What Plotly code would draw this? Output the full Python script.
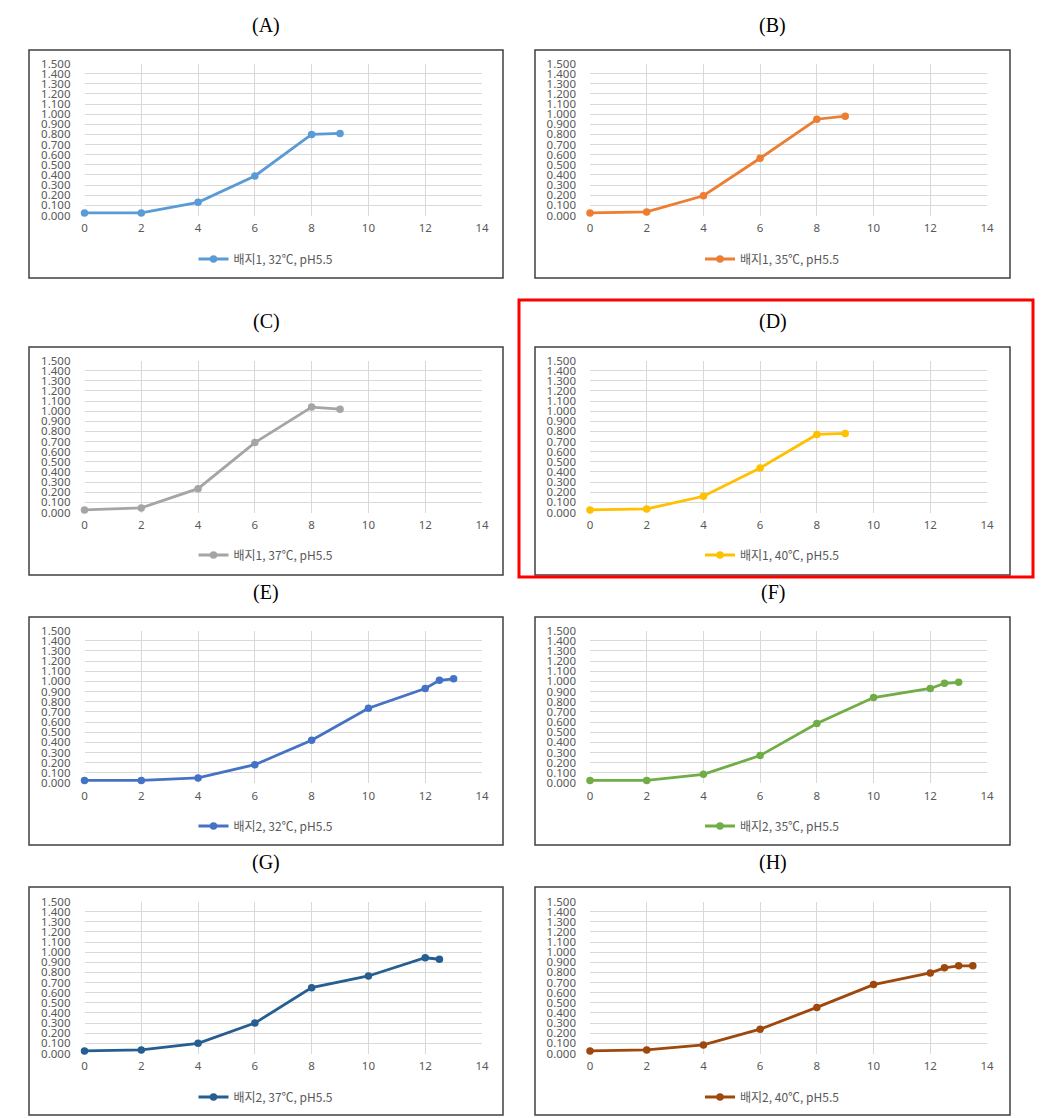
import plotly.graph_objects as go

# ---------------- data ----------------
panel_titles = ["(A)", "(B)", "(C)", "(D)", "(E)", "(F)", "(G)", "(H)"]
series_names = [
    "배지1, 32℃, pH5.5", "배지1, 35℃, pH5.5",
    "배지1, 37℃, pH5.5", "배지1, 40℃, pH5.5",
    "배지2, 32℃, pH5.5", "배지2, 35℃, pH5.5",
    "배지2, 37℃, pH5.5", "배지2, 40℃, pH5.5",
]
x_m1 = [0, 2, 4, 6, 8, 9]
x_e = [0, 2, 4, 6, 8, 10, 12, 12.5, 13]
x_f = [0, 2, 4, 6, 8, 10, 12, 12.5, 13]
x_g = [0, 2, 4, 6, 8, 10, 12, 12.5]
x_h = [0, 2, 4, 6, 8, 10, 12, 12.5, 13, 13.5]

y_a = [0.025, 0.025, 0.13, 0.39, 0.80, 0.81]
y_b = [0.025, 0.035, 0.195, 0.565, 0.950, 0.980]
y_c = [0.025, 0.045, 0.235, 0.69, 1.04, 1.02]
y_d = [0.025, 0.035, 0.16, 0.44, 0.77, 0.78]
y_e = [0.025, 0.025, 0.05, 0.18, 0.42, 0.735, 0.93, 1.01, 1.025]
y_f = [0.025, 0.025, 0.085, 0.27, 0.585, 0.84, 0.93, 0.98, 0.99]
y_g = [0.025, 0.035, 0.10, 0.30, 0.65, 0.765, 0.945, 0.93]
y_h = [0.025, 0.035, 0.085, 0.24, 0.455, 0.68, 0.795, 0.845, 0.865, 0.865]

xs = [x_m1, x_m1, x_m1, x_m1, x_e, x_f, x_g, x_h]
ys = [y_a, y_b, y_c, y_d, y_e, y_f, y_g, y_h]
colors = ["#5B9BD5", "#ED7D31", "#A5A5A5", "#FFC000",
          "#4472C4", "#70AD47", "#255E91", "#9E480E"]

x_ticks = [0, 2, 4, 6, 8, 10, 12, 14]

# ---------------- layout geometry (pixels in the final page) ----------------
W, H = 1048, 1118
OFF = 8  # page body margin added by the html wrapper
col_plot = [(84.5, 482), (590, 987)]
col_box = [(29, 503), (535, 1010)]
row_plot = [(63.5, 215.5), (360.5, 512.5), (630.5, 783), (901.5, 1053.5)]
row_box = [(50, 278), (347, 575), (617, 845), (887, 1115)]
row_title = [25, 322, 592, 862]
row_legend = [259, 555, 826, 1097]


def px(xp):
    return (xp - OFF) / W


def py(yp):
    return 1 - (yp - OFF) / H


fig = go.Figure()
shapes = []
annotations = []
layout = {}

for i in range(8):
    r, c = divmod(i, 2)
    n = i + 1
    xa = "x" if n == 1 else f"x{n}"
    ya = "y" if n == 1 else f"y{n}"
    lg = "legend" if n == 1 else f"legend{n}"
    fig.add_trace(go.Scatter(
        x=xs[i], y=ys[i], mode="lines+markers", name=series_names[i],
        line=dict(color=colors[i], width=2.8),
        marker=dict(color=colors[i], size=7.5, symbol="circle"),
        xaxis=xa, yaxis=ya, legend=lg, showlegend=True, cliponaxis=False,
    ))
    layout[f"xaxis{'' if n == 1 else n}"] = dict(
        domain=[px(col_plot[c][0]), px(col_plot[c][1])],
        anchor=ya, range=[0, 14], tickvals=x_ticks,
        showgrid=True, gridcolor="#D9D9D9", gridwidth=1,
        zeroline=False, showline=False, ticks="", automargin=False,
        tickfont=dict(family="Noto Sans", size=11.5, color="#595959"),
        ticklabelstandoff=4, fixedrange=True,
    )
    layout[f"yaxis{'' if n == 1 else n}"] = dict(
        domain=[py(row_plot[r][1]), py(row_plot[r][0])],
        anchor=xa, range=[0, 1.5], dtick=0.1, tick0=0, tickformat=".3f",
        showgrid=True, gridcolor="#D9D9D9", gridwidth=1,
        zeroline=False, showline=False, ticks="", automargin=False,
        tickfont=dict(family="Noto Sans", size=11.5, color="#595959"),
        ticklabelstandoff=13, fixedrange=True,
    )
    layout[lg] = dict(
        x=px((col_box[c][0] + col_box[c][1]) / 2), xanchor="center",
        y=py(row_legend[r]), yanchor="middle", orientation="h",
        bgcolor="rgba(0,0,0,0)",
        font=dict(family="Noto Sans CJK KR, Noto Sans", size=12, color="#595959"),
    )
    shapes.append(dict(
        type="rect", xref="paper", yref="paper",
        x0=px(col_box[c][0]), x1=px(col_box[c][1]),
        y0=py(row_box[r][1]), y1=py(row_box[r][0]),
        line=dict(color="#404040", width=1.5), fillcolor="rgba(0,0,0,0)",
    ))
    annotations.append(dict(
        text=panel_titles[i], xref="paper", yref="paper",
        x=px((col_box[c][0] + col_box[c][1]) / 2), y=py(row_title[r]),
        xanchor="center", yanchor="middle", showarrow=False,
        font=dict(family="Liberation Serif", size=20, color="#000000"),
    ))

# red highlight around panel (D)
shapes.append(dict(
    type="rect", xref="paper", yref="paper",
    x0=px(519), x1=px(1033), y0=py(577), y1=py(300),
    line=dict(color="#FF0000", width=3), fillcolor="rgba(0,0,0,0)",
))

fig.update_layout(
    width=W, height=H,
    margin=dict(l=0, r=0, t=0, b=0, pad=0, autoexpand=False),
    paper_bgcolor="white", plot_bgcolor="white",
    shapes=shapes, annotations=annotations, **layout,
)

fig.write_html("out.html")
